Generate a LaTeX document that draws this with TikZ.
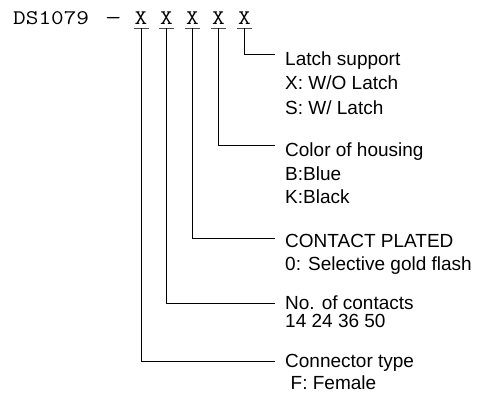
\documentclass[tikz,border=0pt]{standalone}
\usepackage{fontspec}
\newfontfamily\labelfont{Liberation Sans}
\begin{document}
\begin{tikzpicture}[x=1pt,y=-1pt,
  lbl/.style={anchor=base west,inner sep=0pt,font=\labelfont\fontsize{19}{21}\selectfont},
  code/.style={anchor=base,inner sep=0pt,font=\ttfamily\fontsize{20.8}{22}\selectfont,xscale=1.18},
  wire/.style={draw=black,line width=0.8pt},
  uline/.style={draw=black!70,line width=1pt}]
\useasboundingbox (0,0) rectangle (485,398);
\fill[white] (0,0) rectangle (485,398);
% part number
\node[code,anchor=base west] (pn) at (13,25) {DS1079};
\node[code,xscale=1.3] (dash) at (113.3,25) {—};
\foreach \i/\xx in {1/141,2/166.5,3/192.5,4/218.5,5/244.5}{
  \node[code] (x\i) at (\xx,25) {X};
  \coordinate (u\i) at (\xx,28.3);
  \draw[uline] ([xshift=-7.5]u\i) -- ([xshift=7.5]u\i);
}
% labels
\node[lbl] (lat) at (285,66) {Latch support};
\node[lbl] (lat1) at (285,90) {X: W/O Latch};
\node[lbl] (lat2) at (285,114.5) {S: W/ Latch};
\node[lbl] (col) at (285,157) {Color of housing};
\node[lbl] (col1) at (285,180.5) {B:Blue};
\node[lbl] (col2) at (285,203.5) {K:Black};
\node[lbl] (con) at (285,248) {CONTACT PLATED};
\node[lbl] (con1) at (285,271) {0: Selective gold flash};
\node[lbl] (num) at (285,309.5) {No. of contacts};
\node[lbl] (num1) at (285,327.5) {14 24 36 50};
\node[lbl] (typ) at (285,367) {Connector type};
\node[lbl] (typ1) at (290.5,389.5) {F: Female};
% line ends
\coordinate (e5) at (275,54.5);
\coordinate (e4) at (275,145.5);
\coordinate (e3) at (275,238.5);
\coordinate (e2) at (275,303.3);
\coordinate (e1) at (275,361.7);
\foreach \i in {1,...,5}{\draw[wire] (u\i) |- (e\i);}
\end{tikzpicture}
\end{document}
